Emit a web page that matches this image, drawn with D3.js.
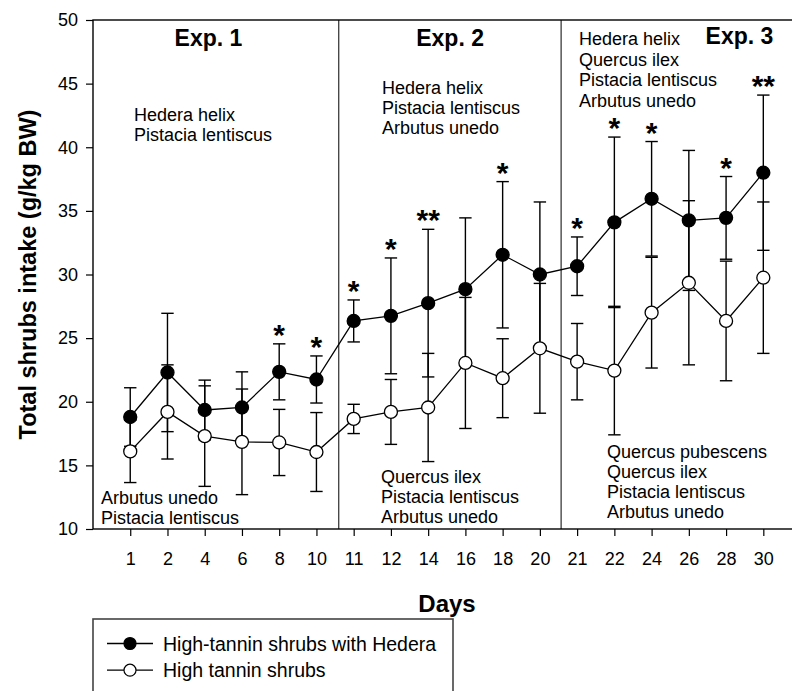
<!DOCTYPE html>
<html>
<head>
<meta charset="utf-8">
<script src="https://d3js.org/d3.v7.min.js"></script>
<style>
  body { margin: 0; background: #fff; }
  svg { font-family: "Liberation Sans", Arial, sans-serif; }
  .axis text { font-size: 18px; fill: #000; }
  .axis line, .axis path { stroke: #000; stroke-width: 1.2; }
</style>
</head>
<body>
<div id="chart"></div>
<script>
// days on the x axis (categorical, evenly spaced)
var days = [1, 2, 4, 6, 8, 10, 11, 12, 14, 16, 18, 20, 21, 22, 24, 26, 28, 30];
// high-tannin shrubs with Hedera (filled)
var hederaMean = [18.8, 22.3, 19.35, 19.55, 22.35, 21.75, 26.35, 26.75, 27.75, 28.85, 31.55, 30.0, 30.65, 34.1, 35.95, 34.25, 34.45, 38.0];
var hederaSD   = [2.3, 4.65, 2.35, 2.8, 2.2, 1.85, 1.65, 4.55, 5.8, 5.6, 5.75, 5.7, 2.3, 6.7, 4.5, 5.5, 3.25, 6.1];
// high tannin shrubs (open)
var shrubMean = [16.1, 19.2, 17.3, 16.85, 16.8, 16.05, 18.65, 19.2, 19.55, 23.05, 21.85, 24.2, 23.15, 22.45, 27.0, 29.35, 26.35, 29.75];
var shrubSD   = [2.45, 3.7, 3.95, 4.15, 2.6, 3.1, 1.15, 2.55, 4.25, 5.15, 3.1, 5.1, 3.0, 5.05, 4.35, 6.45, 4.7, 5.95];
// significance marks above the Hedera series
var signif = ["", "", "", "", "*", "*", "*", "*", "**", "", "*", "", "*", "*", "*", "", "*", "**"];
var yTicks = [10, 15, 20, 25, 30, 35, 40, 45, 50];

var expNames = ["Exp. 1", "Exp. 2", "Exp. 3"];
var topSpecies = [
  ["Hedera helix", "Pistacia lentiscus"],
  ["Hedera helix", "Pistacia lentiscus", "Arbutus unedo"],
  ["Hedera helix", "Quercus ilex", "Pistacia lentiscus", "Arbutus unedo"]
];
var bottomSpecies = [
  ["Arbutus unedo", "Pistacia lentiscus"],
  ["Quercus ilex", "Pistacia lentiscus", "Arbutus unedo"],
  ["Quercus pubescens", "Quercus ilex", "Pistacia lentiscus", "Arbutus unedo"]
];
var legendLabels = ["High-tannin shrubs with Hedera", "High tannin shrubs"];

var W = 792, H = 691;
var svg = d3.select("#chart").append("svg").attr("width", W).attr("height", H);

var plotLeft = 93, plotTop = 20, plotBottom = 529, step = 37.24;
var x = d3.scaleLinear().domain([0, days.length + 1]).range([plotLeft, plotLeft + (days.length + 1) * step]);
var y = d3.scaleLinear().domain([10, 50]).range([plotBottom, plotTop]);

// frame
svg.append("rect")
  .attr("x", x(0)).attr("y", y(50))
  .attr("width", x(days.length + 1) - x(0)).attr("height", y(10) - y(50))
  .attr("fill", "none").attr("stroke", "#000").attr("stroke-width", 1.4);

// experiment dividers
[6.6, 12.57].forEach(function(d) {
  svg.append("line")
    .attr("x1", x(d)).attr("x2", x(d)).attr("y1", y(50)).attr("y2", y(10))
    .attr("stroke", "#000").attr("stroke-width", 1);
});

// axes
var xAxis = d3.axisBottom(x)
  .tickValues(d3.range(1, days.length + 1))
  .tickFormat(function(i) { return days[i - 1]; })
  .tickSize(7).tickSizeOuter(0).tickPadding(16);
svg.append("g").attr("class", "axis").attr("transform", "translate(0," + plotBottom + ")").call(xAxis)
  .select(".domain").remove();

var yAxis = d3.axisLeft(y).tickValues(yTicks).tickSize(7).tickSizeOuter(0).tickPadding(8);
svg.append("g").attr("class", "axis").attr("transform", "translate(" + plotLeft + ",0)").call(yAxis)
  .select(".domain").remove();

// axis titles
svg.append("text")
  .attr("transform", "translate(36," + ((plotTop + plotBottom) / 2) + ") rotate(-90)")
  .attr("text-anchor", "middle").attr("font-size", "23.5px").attr("font-weight", "bold")
  .text("Total shrubs intake (g/kg BW)");
svg.append("text")
  .attr("x", 447).attr("y", 612)
  .attr("text-anchor", "middle").attr("font-size", "24px").attr("font-weight", "bold")
  .text("Days");

// experiment headings and species annotations
var expX = [3.1, 9.59, 17.36];
var expY = [46, 46, 43.5];
expNames.forEach(function(n, i) {
  svg.append("text").attr("x", x(expX[i])).attr("y", expY[i])
    .attr("text-anchor", "middle").attr("font-size", "23px").attr("font-weight", "bold").text(n);
});

function block(lines, px, py, lh) {
  lines.forEach(function(t, j) {
    svg.append("text").attr("x", px).attr("y", py + j * lh).attr("font-size", "18px").text(t);
  });
}
block(topSpecies[0], 134, 121, 19.5);
block(topSpecies[1], 382, 93.5, 20.3);
block(topSpecies[2], 579, 45, 20.6);
block(bottomSpecies[0], 101, 504, 20);
block(bottomSpecies[1], 381, 483, 20);
block(bottomSpecies[2], 607, 457.5, 20.3);

// series
var series = [
  { mean: hederaMean, sd: hederaSD, fill: "#000" },
  { mean: shrubMean, sd: shrubSD, fill: "#fff" }
];

var line = d3.line().x(function(d, i) { return x(i + 1); }).y(function(d) { return y(d); });

series.forEach(function(s) {
  var g = svg.append("g");
  s.mean.forEach(function(m, i) {
    var cx = x(i + 1), lo = y(m - s.sd[i]), hi = y(m + s.sd[i]);
    g.append("line").attr("x1", cx).attr("x2", cx).attr("y1", lo).attr("y2", hi)
      .attr("stroke", "#000").attr("stroke-width", 1.4);
    [lo, hi].forEach(function(yy) {
      g.append("line").attr("x1", cx - 6.2).attr("x2", cx + 6.2).attr("y1", yy).attr("y2", yy)
        .attr("stroke", "#000").attr("stroke-width", 1.4);
    });
  });
});

series.forEach(function(s) {
  svg.append("path").datum(s.mean).attr("d", line)
    .attr("fill", "none").attr("stroke", "#000").attr("stroke-width", 1.3);
});

series.slice().reverse().forEach(function(s) {
  svg.append("g").selectAll("circle").data(s.mean).enter().append("circle")
    .attr("cx", function(d, i) { return x(i + 1); })
    .attr("cy", function(d) { return y(d); })
    .attr("r", 6.5)
    .attr("fill", s.fill).attr("stroke", "#000").attr("stroke-width", 1.3);
});

// asterisks
svg.append("g").selectAll("text").data(signif).enter().append("text")
  .attr("x", function(d, i) { return x(i + 1); })
  .attr("y", function(d, i) { return y(hederaMean[i] + hederaSD[i]) + 1; })
  .attr("text-anchor", "middle").attr("font-size", "30px").attr("font-weight", "bold")
  .text(function(d) { return d; });

// legend
var lg = svg.append("g");
lg.append("rect").attr("x", 93).attr("y", 619).attr("width", 360).attr("height", 90)
  .attr("fill", "#fff").attr("stroke", "#444").attr("stroke-width", 1.6);
legendLabels.forEach(function(t, i) {
  var ly = 643.5 + i * 26.7;
  lg.append("line").attr("x1", 107).attr("x2", 153).attr("y1", ly).attr("y2", ly)
    .attr("stroke", "#000").attr("stroke-width", 1.3);
  lg.append("circle").attr("cx", 130).attr("cy", ly).attr("r", 6)
    .attr("fill", series[i].fill).attr("stroke", "#000").attr("stroke-width", 1.2);
  lg.append("text").attr("x", 163).attr("y", ly + 7).attr("font-size", "19.5px").text(t);
});
</script>
</body>
</html>
